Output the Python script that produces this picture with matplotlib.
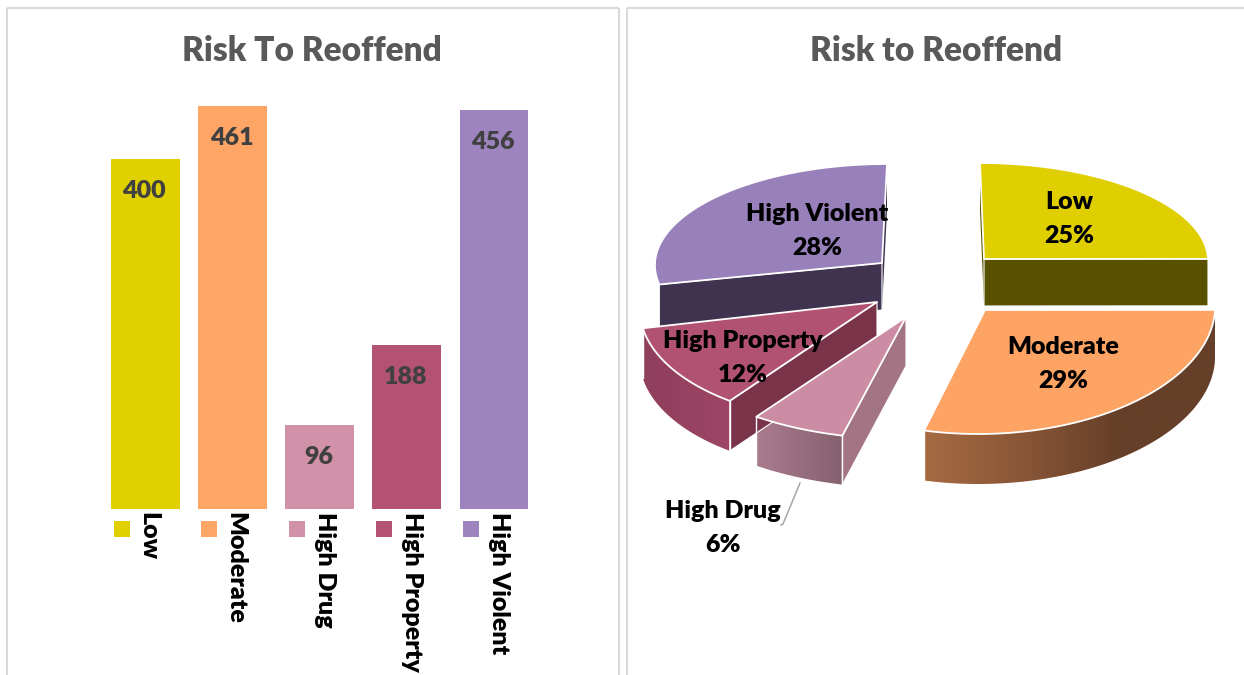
import numpy as np
import matplotlib
matplotlib.use("Agg")
import matplotlib.pyplot as plt
from matplotlib.patches import Polygon
from matplotlib.colors import LinearSegmentedColormap

# data
categories = ["Low", "Moderate", "High Drug", "High Property", "High Violent"]
counts = [400, 461, 96, 188, 456]
bar_title = "Risk To Reoffend"
pie_title = "Risk to Reoffend"

# styles
colors = ["#E0D000", "#FFA566", "#D191A8", "#B35273", "#9D84BF"]
top_colors = ["#DFCE00", "#FDA363", "#CC8CA4", "#B25273", "#9880BB"]
FONT = "Lato"
WEIGHT = "heavy"
W, H = 1244, 675

fig = plt.figure(figsize=(W / 100, H / 100), dpi=100, facecolor="white")
bg = fig.add_axes([0, 0, 1, 1])
bg.set_xlim(0, W)
bg.set_ylim(H, 0)
bg.axis("off")

# panel frames
for xs, ys in [([7, 7], [8, H]), ([7, 619], [8, 8]), ([619, 619], [8, H]),
               ([627, 627], [8, H]), ([627, W], [8, 8])]:
    bg.plot(xs, ys, color="#D9D9D9", lw=1.5, solid_capstyle="butt")

bg.text(312, 51, bar_title, ha="center", va="center", fontsize=24,
        fontweight=WEIGHT, color="#595959", family=FONT)
bg.text(936, 51, pie_title, ha="center", va="center", fontsize=24,
        fontweight=WEIGHT, color="#595959", family=FONT)

# ---- bar chart ----
ax = fig.add_axes([101.6 / W, 1 - 509 / H, 436 / W, 437 / H])
ax.set_xlim(-0.5, 4.5)
ax.set_ylim(0, 500)
ax.axis("off")
x = np.arange(len(categories))
ax.bar(x, counts, width=0.79, color=colors)
for i, (cat, v) in enumerate(zip(categories, counts)):
    ax.annotate(str(v), (i, v), xytext=(-1, -21), textcoords="offset pixels",
                ha="center", va="top", fontsize=18, fontweight=WEIGHT,
                color="#404040", family=FONT, annotation_clip=False)
    ax.plot([i], [0], marker="s", ms=11.5, color=colors[i], ls="none", clip_on=False,
            transform=ax.transData + matplotlib.transforms.ScaledTranslation(-23 / 100, -20 / 100, fig.dpi_scale_trans),
            markeredgewidth=0)
    has_descender = any(ch in cat for ch in "gpy")
    ax.annotate(cat, (i, 0), xytext=(5 if has_descender else 3, -3), textcoords="offset pixels",
                rotation=270, ha="center", va="top", fontsize=18, fontweight=WEIGHT,
                color="black", family=FONT, annotation_clip=False)

# ---- exploded 3-D pie ----
# per-slice layout: apex x, apex y, rx, ry, lean, depth
layout = {
    "Low":           (984, 259, 224, 96, -4, 47),
    "Moderate":      (985, 310, 230, 124, 7, 50),
    "High Drug":     (906, 317, 254, 122, 4, 49),
    "High Property": (877, 302, 237, 121, 13, 50),
    "High Violent":  (882, 263, 227, 99, 5, 47),
}
wall_stops = {
    "Moderate":      ["#A66B43", "#8A5636", "#663F29", "#663F29"],
    "High Drug":     ["#AB7C8F", "#85606F"],
    "High Property": ["#8F3F5C", "#9E4565"],
}
cut_face = {"Low": "#595000", "Moderate": "#663F29", "High Drug": "#A27484",
            "High Property": "#7A3449", "High Violent": "#3F3350"}

total = sum(counts)
fractions = [c / total for c in counts]
edges = np.concatenate([[0], np.cumsum(fractions)]) * 2 * np.pi


def surface_point(name, a):
    cx, cy, rx, ry, lean, _ = layout[name]
    return np.array([cx + rx * np.sin(a) + lean * np.cos(a), cy - ry * np.cos(a)])


draw_order = ["High Violent", "High Property", "High Drug", "Low", "Moderate"]
for name in draw_order:
    i = categories.index(name)
    a0, a1 = edges[i], edges[i + 1]
    cx, cy, rx, ry, lean, d = layout[name]
    down = np.array([0, d])
    rim = np.array([surface_point(name, a) for a in np.linspace(a0, a1, 160)])
    apex = np.array([cx, cy])

    # flat cut faces seen from the front
    faces = {"Low": [(a0, False), (a1, True)], "Moderate": [],
             "High Drug": [(a0, True)], "High Property": [(a0, True)],
             "High Violent": [(a1, False), (a0, True)]}[name]
    for ang, edged in faces:
        p = surface_point(name, ang)
        bg.add_patch(Polygon([apex, p, p + down, apex + down], closed=True,
                             facecolor=cut_face[name],
                             edgecolor="white" if edged else "none", linewidth=0.8))

    # outer wall with a horizontal gradient
    if name in wall_stops:
        cmap = LinearSegmentedColormap.from_list(name, wall_stops[name])
        xmin, xmax = rim[:, 0].min(), rim[:, 0].max()
        wall = np.vstack([rim, rim[::-1] + down])
        ymin, ymax = wall[:, 1].min(), wall[:, 1].max()
        im = bg.imshow(np.linspace(0, 1, 256)[None, :], cmap=cmap, aspect="auto",
                       extent=(xmin, xmax, ymax, ymin), interpolation="bilinear")
        clip = Polygon(wall, closed=True, transform=bg.transData)
        im.set_clip_path(clip)
        for end in (rim[0], rim[-1]):
            if name != "Moderate" or end[1] > cy + 50:
                bg.plot([end[0], end[0]], [end[1], end[1] + d], color="white", lw=1.0)

    # top surface
    bg.add_patch(Polygon(np.vstack([apex, rim]), closed=True, facecolor=top_colors[i],
                         edgecolor="white", linewidth=1.3, joinstyle="round"))

bg.set_xlim(0, W)
bg.set_ylim(H, 0)

# leader line
bg.plot([800, 783, 781], [483, 524, 525], color="#A6A6A6", lw=1.1)

# pie labels
label_pos = {"Low": (1069, 219), "Moderate": (1063, 364), "High Drug": (723, 528),
             "High Property": (743, 358), "High Violent": (817, 231)}
for name, f in zip(categories, fractions):
    lx, ly = label_pos[name]
    bg.text(lx, ly, f"{name}\n{f * 100:.0f}%", ha="center", va="center", fontsize=18,
            fontweight=WEIGHT, color="black", family=FONT, linespacing=1.68, zorder=10)

fig.savefig("out.png", dpi=100)
